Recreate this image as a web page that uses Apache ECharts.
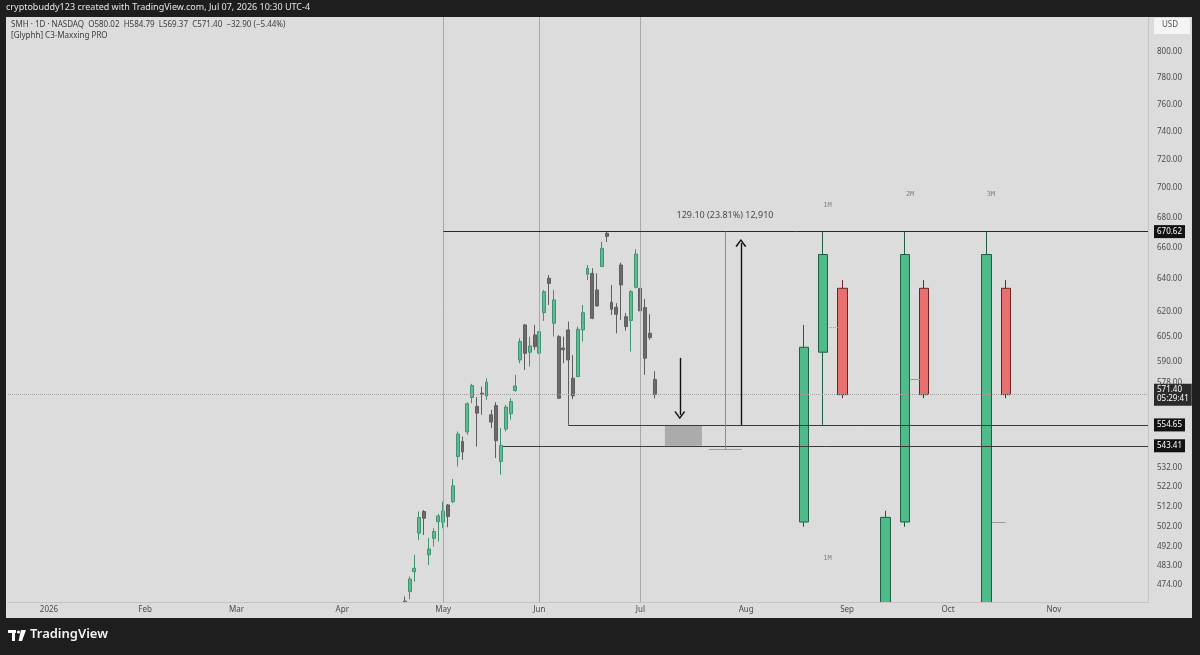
<!DOCTYPE html>
<html>
<head>
<meta charset="utf-8">
<script src="https://cdn.jsdelivr.net/npm/echarts@6/dist/echarts.min.js"></script>
<style>
html,body{margin:0;padding:0;background:#1e1e1e;}
#c{width:1200px;height:655px;}
</style>
</head>
<body>
<div id="c"></div>
<script>
// ---------- DATA ----------
const dates = ['2026-04-21','2026-04-22','2026-04-23','2026-04-24','2026-04-27','2026-04-28','2026-04-29','2026-04-30',
  '2026-05-01','2026-05-04','2026-05-05','2026-05-06','2026-05-07','2026-05-08','2026-05-11','2026-05-12','2026-05-13','2026-05-14','2026-05-15',
  '2026-05-18','2026-05-19','2026-05-20','2026-05-21','2026-05-22','2026-05-26','2026-05-27','2026-05-28','2026-05-29',
  '2026-06-01','2026-06-02','2026-06-03','2026-06-04','2026-06-05','2026-06-08','2026-06-09','2026-06-10','2026-06-11','2026-06-12',
  '2026-06-15','2026-06-16','2026-06-17','2026-06-18','2026-06-22','2026-06-23','2026-06-24','2026-06-25','2026-06-26','2026-06-29','2026-06-30',
  '2026-07-01','2026-07-02','2026-07-06','2026-07-07'];
const opens  = [466.5,470.9,480.2,498.7,509.4,488.2,496.2,504.4, 504.1,512.7,514.4,537.7,545.7,550.8,569.8,564.8,572.2,570.7,560.2,
  565.3,535.1,552.4,560.8,573.7,591.2,611.9,595.7,605.9, 595.1,619.3,640.6,612.9,604.9,598.2,608.9,580.7,581.6,608.9,
  643.1,643.7,633.3,648.0,669.5,625.7,622.6,649.0,616.9,614.5,634.9, 634.3,622.4,606.9,580.02];
const closes = [461.0,476.7,481.8,506.4,506.1,491.0,499.5,507.2, 509.7,506.9,522.4,549.7,540.1,566.3,576.5,561.1,571.7,578.4,556.2,
  546.1,543.6,564.5,567.5,576.3,602.0,595.1,599.4,599.0, 607.9,632.2,637.4,627.1,569.4,597.1,591.2,570.7,609.3,619.3,
  646.9,615.9,623.4,659.7,667.5,621.4,618.4,636.4,610.9,632.2,656.0, 620.4,592.2,604.3,571.40];
const lows   = [456.0,467.4,475.5,495.4,497.8,483.4,492.2,494.6, 501.1,501.6,513.6,532.5,536.0,549.3,566.6,543.0,560.2,568.5,552.9,
  536.9,528.2,551.1,557.5,573.1,589.3,585.4,587.4,597.1, 593.1,614.3,624.0,604.9,569.0,589.3,554.65,568.8,581.3,602.0,
  639.5,615.3,623.0,647.9,663.8,617.9,606.9,614.9,608.5,596.1,634.3, 619.0,582.6,603.0,569.37];
const highs  = [468.6,477.9,488.2,509.4,510.2,496.4,501.1,508.2, 514.4,513.2,526.0,551.1,548.4,567.0,577.5,570.0,575.9,580.7,562.9,
  567.2,552.9,565.7,569.4,582.6,604.0,612.5,604.9,611.9, 612.9,633.3,642.6,633.3,605.9,604.9,613.9,594.0,610.9,624.0,
  649.0,646.9,643.7,664.0,670.62,636.4,625.1,650.5,619.0,633.3,659.1, 634.9,627.7,618.4,584.79];

// projected (indicator) candles
const projDates  = ['2026-08-19','2026-08-25','2026-08-31','2026-09-14','2026-09-18','2026-09-24','2026-10-13','2026-10-19'];
const projOpens  = [504.2,595.7,634.3,440.0,504.2,634.3,440.0,634.3];
const projCloses = [598.6,655.7,571.4,506.5,655.7,571.4,655.7,571.4];
const projLows   = [501.8,554.65,569.4,430.0,501.8,569.4,430.0,569.4];
const projHighs  = [611.9,670.62,639.4,509.8,670.62,639.4,670.62,639.4];
const projLabels = [['2026-08-25',688.3,'1M'],['2026-09-18',695.8,'2M'],['2026-10-13',695.8,'3M'],['2026-08-25',486.7,'1M']];

const monthTickDates  = ['2026-01-02','2026-02-02','2026-03-02','2026-04-01','2026-05-01','2026-06-01','2026-07-01','2026-08-03','2026-09-01','2026-10-01','2026-11-02','2026-12-01'];
const monthTickLabels = ['2026','Feb','Mar','Apr','May','Jun','Jul','Aug','Sep','Oct','Nov','Dec'];
const priceTicks = [474,483,492,502,512,522,532,578,590,605,620,640,660,680,700,720,740,760,780,800];

const levelHigh = 670.62;
const levelMid = 554.65;
const levelLow = 543.41;
const lastPrice = 571.40;
const measureLow = 541.52;
const measureText = '129.10 (23.81%) 12,910';
const holidays = ['2026-01-01','2026-01-19','2026-02-16','2026-04-03','2026-05-25','2026-06-19','2026-07-03','2026-09-07','2026-11-26','2026-12-25'];

// trading-day index since 2026-01-02
function tIdx(ds){
  const start = Date.UTC(2026,0,2);
  const p = ds.split('-').map(Number);
  const end = Date.UTC(p[0],p[1]-1,p[2]);
  let n = 0;
  for (let t = start; t < end; t += 86400000){
    const d = new Date(t), wd = d.getUTCDay(), s = d.toISOString().slice(0,10);
    if (wd !== 0 && wd !== 6 && holidays.indexOf(s) < 0) n++;
  }
  return n;
}

const X_MIN = -8.527, X_MAX = 228.58;
const FONT = "'Noto Sans','DejaVu Sans',sans-serif";
const candleData = dates.map((d,i)=>[tIdx(d), opens[i], closes[i], lows[i], highs[i]]);
const projData = projDates.map((d,i)=>[tIdx(d), projOpens[i], projCloses[i], projLows[i], projHighs[i]]);
const monthIdx = monthTickDates.map(tIdx);
const monthLabelMap = {};
monthIdx.forEach((v,i)=>{monthLabelMap[v]=monthTickLabels[i];});

const CHEVRON = 'path://M0,9 L5,0 L10,9 L8.7,9.9 L5,2.8 L1.3,9.9 Z';
const tagLabel = (txt, bg) => ({show:true, position:'end', distance:6, formatter:txt, color:'#fff', backgroundColor:bg||'#121212',
  padding:[2,3,2,3], fontSize:8, fontFamily:FONT, lineHeight:9});

const iMay = tIdx('2026-05-01'), iJun = tIdx('2026-06-01'), iJul = tIdx('2026-07-01');
const iLvlMid = tIdx('2026-06-09');
const iLvlLow = 94.4, iMeasure = 140.6, iUp = 143.9, iDown = 131.2;
const vLine = {color:'#a8a8a8', width:1, type:'solid'};

const chart = echarts.init(document.getElementById('c'), null, {renderer:'canvas', width:1200, height:655});
chart.setOption({
  animation:false,
  backgroundColor:'#dcdcdc',
  grid:{left:8, top:17, width:1140, height:585, containLabel:false},
  xAxis:{type:'value', min:X_MIN, max:X_MAX, z:10,
    axisLine:{show:true, onZero:false, lineStyle:{color:'#c4c4c4'}}, axisTick:{show:false}, splitLine:{show:false},
    axisLabel:{customValues:monthIdx, formatter:v=>monthLabelMap[Math.round(v)]||'', color:'#4a4a4a', fontSize:8, fontFamily:FONT, margin:4}},
  yAxis:{type:'log', logBase:10, min:466.1, max:828, position:'right', scale:true, z:10,
    axisLine:{show:true, onZero:false, lineStyle:{color:'#c4c4c4'}}, axisTick:{show:false}, splitLine:{show:false},
    axisLabel:{customValues:priceTicks, formatter:v=>Number(v).toFixed(2), color:'#4a4a4a', fontSize:8, fontFamily:FONT, margin:9, align:'left'}},
  series:[
    {type:'candlestick', name:'SMH', data:candleData, barWidth:3.4, clip:true,
      itemStyle:{color:'#5cbb92', color0:'#6b6b6b', borderColor:'#3f9470', borderColor0:'#5e5e5e', borderWidth:1},
      markLine:{silent:true, symbol:'none', animation:false, label:{show:false},
        data:[
          {xAxis:iMay, lineStyle:vLine},
          {xAxis:iJun, lineStyle:vLine},
          {xAxis:iJul, lineStyle:vLine},
          {yAxis:lastPrice, lineStyle:{color:'#a0a0a0', width:1, type:'dotted'}, label:tagLabel('571.40\n05:29:41','#2b2b2b')},
          [{coord:[iMay, levelHigh], lineStyle:{color:'#2a2a2a', width:1, type:'solid'}, label:tagLabel('670.62')},{coord:[X_MAX, levelHigh]}],
          [{coord:[iLvlMid, levelMid], lineStyle:{color:'#3a3a3a', width:1, type:'solid'}, label:tagLabel('554.65')},{coord:[X_MAX, levelMid]}],
          [{coord:[iLvlLow, levelLow], lineStyle:{color:'#3a3a3a', width:1, type:'solid'}, label:tagLabel('543.41')},{coord:[X_MAX, levelLow]}],
          [{coord:[iMeasure, levelHigh], lineStyle:{color:'#8c8c8c', width:1, type:'solid'}},{coord:[iMeasure, measureLow]}],
          [{coord:[137.3, measureLow], lineStyle:{color:'#9a9a9a', width:1, type:'solid'}},{coord:[144.1, measureLow]}],
          [{coord:[iUp, levelMid], symbol:'none', lineStyle:{color:'#111', width:1.4, type:'solid'}},{coord:[iUp, 663.1], symbol:CHEVRON, symbolSize:[11,8]}],
          [{coord:[iDown, 592.4], symbol:'none', lineStyle:{color:'#111', width:1.4, type:'solid'}},{coord:[iDown, 560.0], symbol:CHEVRON, symbolSize:[11,8]}],
          [{coord:[162.2, 610.7], lineStyle:{color:'#9a9a9a', width:1, type:'dotted'}},{coord:[164.5, 610.7]}],
          [{coord:[179.1, 580.2], lineStyle:{color:'#9a9a9a', width:1, type:'solid'}},{coord:[181.2, 580.2]}],
          [{coord:[196.1, 503.9], lineStyle:{color:'#9a9a9a', width:1, type:'solid'}},{coord:[199.0, 503.9]}]
        ]},
      markArea:{silent:true, itemStyle:{color:'#ababab'},
        data:[[{coord:[128.1, levelMid]},{coord:[135.8, levelLow]}]]}
    },
    {type:'candlestick', name:'Projection', data:projData, barWidth:10, clip:true,
      itemStyle:{color:'#4fbb8a', color0:'#e8716f', borderColor:'#1f5e40', borderColor0:'#6e2424', borderWidth:1}},
    {type:'scatter', data:projLabels.map(r=>[tIdx(r[0]) + (r[2]==='2M'?1.1:0.9), r[1], r[2]]), symbolSize:1,
      itemStyle:{color:'rgba(0,0,0,0)'}, silent:true,
      label:{show:true, position:'inside', formatter:p=>p.data[2], color:'#6a6a6a', fontSize:7, fontFamily:"'DejaVu Sans Mono',monospace"}},
    {type:'scatter', data:[[iMeasure, 681.7, measureText]], symbolSize:1, itemStyle:{color:'rgba(0,0,0,0)'}, silent:true,
      label:{show:true, position:'inside', formatter:p=>p.data[2], color:'#1e1e1e', fontSize:9, fontFamily:FONT}}
  ],
  graphic:[
    // time-axis strip hides marks that run below the plot area
    {type:'rect', shape:{x:6,y:602.5,width:1142,height:16}, style:{fill:'#dcdcdc'}, z:5},
    {type:'rect', shape:{x:0,y:0,width:1200,height:17}, style:{fill:'#1e1e1e'}, z:100},
    {type:'rect', shape:{x:0,y:618,width:1200,height:37}, style:{fill:'#1e1e1e'}, z:100},
    {type:'rect', shape:{x:0,y:0,width:6,height:655}, style:{fill:'#1e1e1e'}, z:100},
    {type:'rect', shape:{x:1192,y:0,width:8,height:655}, style:{fill:'#1e1e1e'}, z:100},
    {type:'text', left:6, top:3, style:{text:'cryptobuddy123 created with TradingView.com, Jul 07, 2026 10:30 UTC-4', fill:'#e6e6e6', font:"9px "+FONT}, z:101},
    {type:'text', left:11, top:21, style:{text:'SMH · 1D · NASDAQ  O580.02  H584.79  L569.37  C571.40  −32.90 (−5.44%)', fill:'#3c3c3c', font:"8px "+FONT}, z:101},
    {type:'text', left:11, top:32, style:{text:'[Glyphh] C3-Maxxing PRO', fill:'#3c3c3c', font:"8px "+FONT}, z:101},
    {type:'rect', shape:{x:1154,y:18,width:36,height:16}, style:{fill:'#f4f4f4'}, z:101},
    {type:'text', left:1162, top:21, style:{text:'USD', fill:'#555', font:"8px "+FONT}, z:102},
    {type:'rect', shape:{x:8,y:630,width:8,height:3}, style:{fill:'#fff'}, z:101},
    {type:'rect', shape:{x:12,y:630,width:3,height:11}, style:{fill:'#fff'}, z:101},
    {type:'circle', shape:{cx:18.5,cy:632,r:1.6}, style:{fill:'#fff'}, z:101},
    {type:'polygon', shape:{points:[[21,630],[26,630],[22,641],[18.5,641]]}, style:{fill:'#fff'}, z:101},
    {type:'text', left:30, top:628, style:{text:'TradingView', fill:'#f2f2f2', font:"600 13px "+FONT}, z:101}
  ]
});
</script>
</body>
</html>
